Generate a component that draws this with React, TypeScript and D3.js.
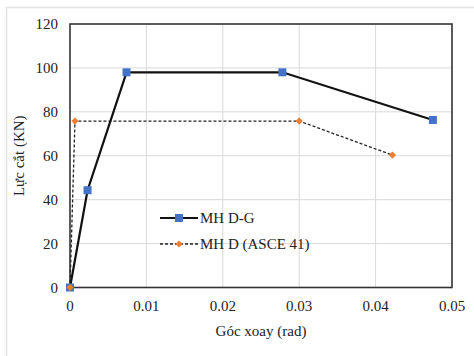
import React from 'react'
import * as d3 from 'd3'

// số liệu
const dgX = [0, 0.0023, 0.0074, 0.0278, 0.0475]
const dgY = [0, 44.3, 98, 98, 76.3]
const asceX = [0, 0.00065, 0.03, 0.0422]
const asceY = [0, 75.8, 75.8, 60.3]
const xTicks = [0, 0.01, 0.02, 0.03, 0.04, 0.05]
const yTicks = [0, 20, 40, 60, 80, 100, 120]
const xTickLabels = ['0', '0.01', '0.02', '0.03', '0.04', '0.05']

const W = 474
const H = 356
const margin = { left: 70, right: 22, top: 24, bottom: 68.5 }
const blue = '#4472C4'
const orange = '#ED7D31'
const txt = { fontFamily: "'Liberation Serif'", fontSize: 15, fill: '#222' }

export default function App() {
  const x = d3.scaleLinear().domain([0, 0.05]).range([margin.left, W - margin.right])
  const y = d3.scaleLinear().domain([0, 120]).range([H - margin.bottom, margin.top])

  const dg = dgX.map((v, i) => [v, dgY[i]] as [number, number])
  const asce = asceX.map((v, i) => [v, asceY[i]] as [number, number])
  const line = d3.line<[number, number]>().x(d => x(d[0])).y(d => y(d[1]))
  const diamond = d3.symbol().type(d3.symbolSquare).size(26)()

  const lx = 160
  const ly1 = 218
  const ly2 = 244

  return (
    <svg width={W} height={H} style={{ position: 'absolute', left: 0, top: 0, background: '#fff' }}>
      <rect x={6.5} y={7.5} width={W + 10} height={H + 10} fill="#fff" stroke="#e2e2e2" strokeWidth={1.5} />
      {xTicks.slice(1, -1).map(t => (
        <line key={'gx' + t} x1={x(t)} x2={x(t)} y1={y(0)} y2={y(120)} stroke="#d9d9d9" />
      ))}
      {yTicks.slice(1, -1).map(t => (
        <line key={'gy' + t} x1={x(0)} x2={x(0.05)} y1={y(t)} y2={y(t)} stroke="#d9d9d9" />
      ))}
      <rect x={x(0)} y={y(120)} width={x(0.05) - x(0)} height={y(0) - y(120)} fill="none" stroke="#333" strokeWidth={1.6} />

      {yTicks.map(t => (
        <text key={'ty' + t} style={txt} x={x(0) - 12} y={y(t)} dy="0.35em" textAnchor="end">{t}</text>
      ))}
      {xTicks.map((t, i) => (
        <text key={'tx' + t} style={txt} x={x(t)} y={y(0) + 23} textAnchor="middle">{xTickLabels[i]}</text>
      ))}
      <text style={txt} x={(x(0) + x(0.05)) / 2} y={336} textAnchor="middle">Góc xoay (rad)</text>
      <text style={txt} transform={`translate(24,${(y(0) + y(120)) / 2}) rotate(-90)`} textAnchor="middle">Lực cắt (KN)</text>

      <path d={line(asce) || ''} fill="none" stroke="#222" strokeWidth={1.3} strokeDasharray="3,2" />
      <path d={line(dg) || ''} fill="none" stroke="#111" strokeWidth={2.2} />
      {dg.map((d, i) => (
        <rect key={'m' + i} x={x(d[0]) - 4} y={y(d[1]) - 4} width={8} height={8} fill={blue} />
      ))}
      {asce.map((d, i) => (
        <path key={'o' + i} d={diamond || ''} transform={`translate(${x(d[0])},${y(d[1])}) rotate(45)`} fill={orange} />
      ))}

      <line x1={lx} x2={lx + 38} y1={ly1} y2={ly1} stroke="#111" strokeWidth={2.2} />
      <rect x={lx + 15} y={ly1 - 4} width={8} height={8} fill={blue} />
      <text style={txt} x={lx + 40} y={ly1} dy="0.35em">MH D-G</text>
      <line x1={lx} x2={lx + 38} y1={ly2} y2={ly2} stroke="#222" strokeWidth={1.3} strokeDasharray="3,2" />
      <path d={diamond || ''} transform={`translate(${lx + 19},${ly2}) rotate(45)`} fill={orange} />
      <text style={txt} x={lx + 40} y={ly2} dy="0.35em">MH D (ASCE 41)</text>
    </svg>
  )
}
